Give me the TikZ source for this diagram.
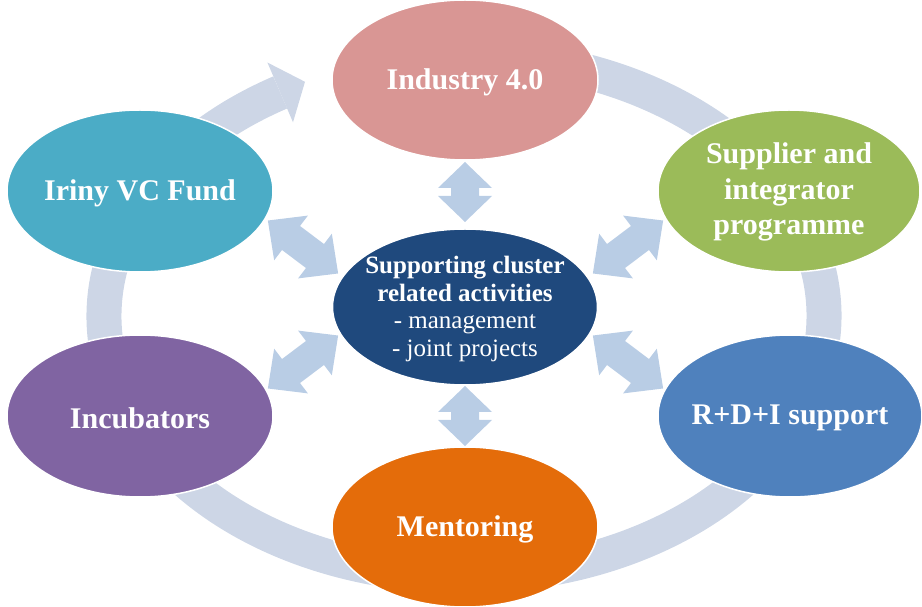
\documentclass[tikz,border=0pt]{standalone}
\usepackage{fontspec}
\setmainfont{Liberation Serif}
\usetikzlibrary{shapes.geometric}
\definecolor{ringcol}{RGB}{205,214,230}
\definecolor{dacol}{RGB}{185,205,229}
\definecolor{cind}{RGB}{217,150,148}
\definecolor{civc}{RGB}{75,172,198}
\definecolor{csup}{RGB}{155,187,89}
\definecolor{cinc}{RGB}{128,100,162}
\definecolor{crdi}{RGB}{79,129,189}
\definecolor{cmen}{RGB}{228,108,10}
\definecolor{ccen}{RGB}{31,73,125}
\newcommand\dbarrow[7]{% x, y, angle, length, head width, head length, shaft width
  \fill[dacol, shift={(#1,#2)}, rotate=#3]
    ({-#4/2},0) -- ({-#4/2+#6},{#5/2}) -- ({-#4/2+#6},{#7/2}) -- ({#4/2-#6},{#7/2})
    -- ({#4/2-#6},{#5/2}) -- ({#4/2},0) -- ({#4/2-#6},{-#5/2}) -- ({#4/2-#6},{-#7/2})
    -- ({-#4/2+#6},{-#7/2}) -- ({-#4/2+#6},{-#5/2}) -- cycle;}
\begin{document}
\begin{tikzpicture}[x=1pt,y=1pt,
  bub/.style={ellipse, draw=white, line width=1.5pt, inner sep=0pt},
  txt/.style={text=white, align=center, inner sep=0pt, font=\bfseries\fontsize{30}{35.5}\selectfont},
  ctxt/.style={text=white, align=center, inner sep=0pt, font=\fontsize{25}{27.8}\selectfont}]
\useasboundingbox (0,0) rectangle (922,606);
% cycle ring
\draw[ringcol, line width=35pt] (464,290) ++(120.7:360 and 260)
  arc[start angle=120.7, end angle=440, x radius=360, y radius=260];
\fill[ringcol] (267.4,543.5) -- (305,524.2) -- (293,483.7) -- cycle;
% double arrows
\dbarrow{465}{414}{90}{60}{54}{26}{28}
\dbarrow{465}{190}{90}{60}{54}{26}{28}
\dbarrow{303}{359}{-37}{88}{56}{29}{30}
\dbarrow{628}{359}{37}{88}{56}{29}{30}
\dbarrow{303}{244}{37}{88}{56}{29}{30}
\dbarrow{628}{244}{-37}{88}{56}{29}{30}
% ellipses
\node[bub, fill=cind, minimum width=266, minimum height=160] (ind) at (465,526) {};
\node[bub, fill=civc, minimum width=266, minimum height=162] (ivc) at (140,415) {};
\node[bub, fill=csup, minimum width=262, minimum height=162] (sup) at (789,415) {};
\node[bub, fill=cinc, minimum width=266, minimum height=162] (inc) at (140,190) {};
\node[bub, fill=crdi, minimum width=264, minimum height=162] (rdi) at (790,190) {};
\node[bub, fill=cmen, minimum width=266, minimum height=160] (men) at (465,79) {};
\node[bub, fill=ccen, minimum width=265, minimum height=156] (cen) at (465,299) {};
% texts
\node[txt] at ([yshift=-2]ind) {Industry 4.0};
\node[txt] at ([yshift=-2]ivc) {Iriny VC Fund};
\node[txt] at ([yshift=-1]sup) {Supplier and\\integrator\\programme};
\node[txt] at ([yshift=-2]inc) {Incubators};
\node[txt] at ([yshift=-2]rdi) {R+D+I support};
\node[txt] at ([yshift=-2]men) {Mentoring};
\node[ctxt] at ([yshift=-2]cen) {\textbf{Supporting cluster}\\\textbf{related activities}\\- management\\- joint projects};
\end{tikzpicture}
\end{document}
